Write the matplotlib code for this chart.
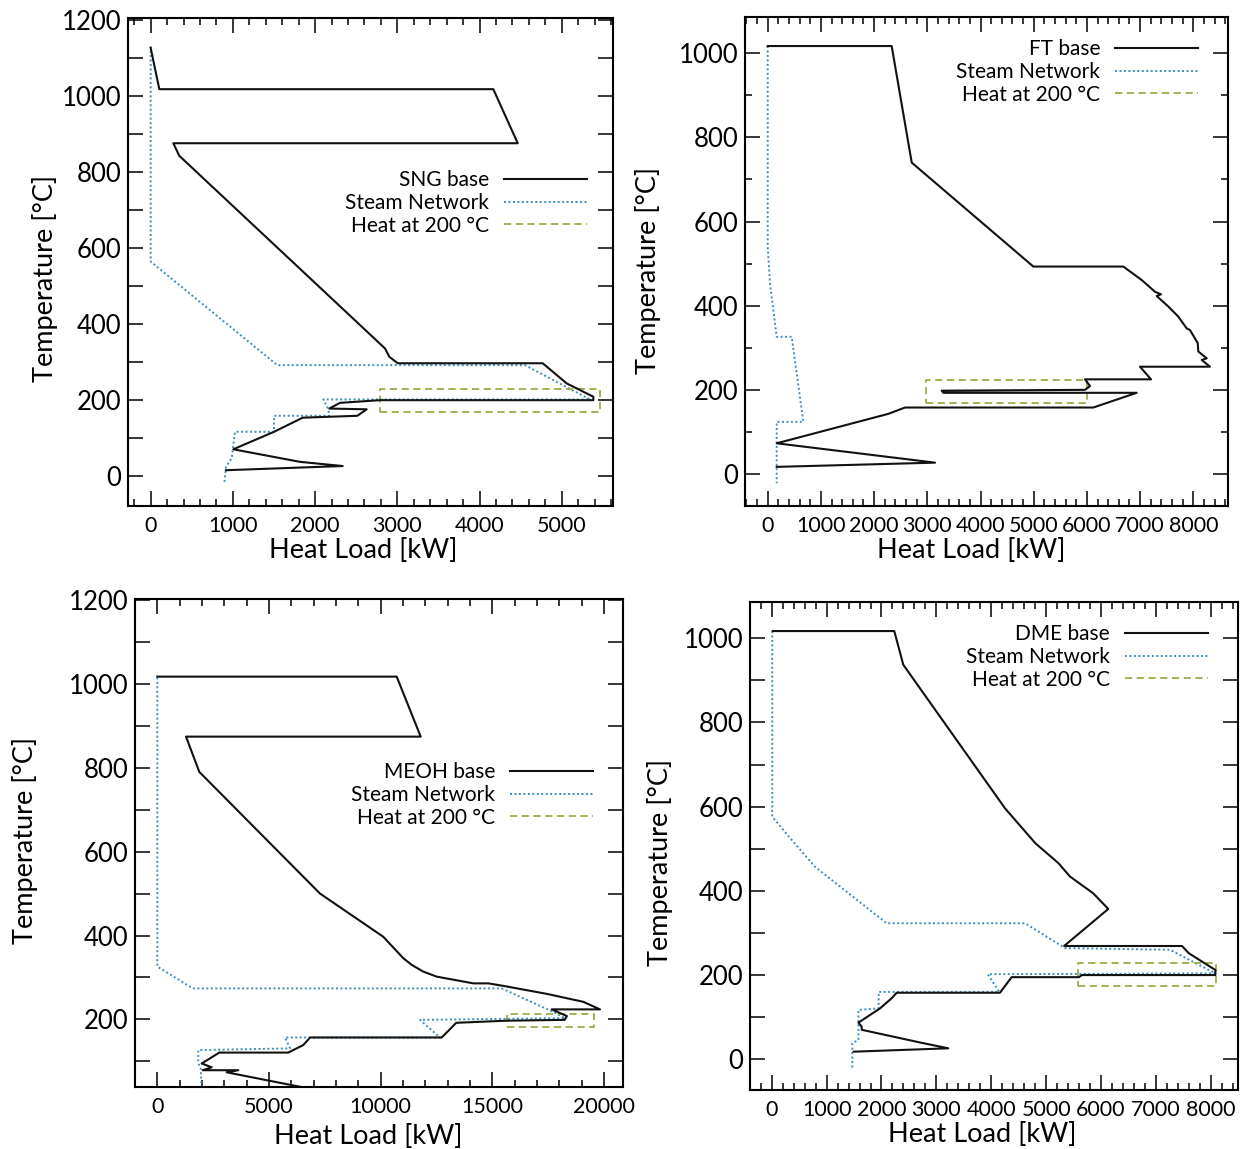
import matplotlib
matplotlib.use("Agg")
import matplotlib.pyplot as plt
from matplotlib.ticker import MultipleLocator

plt.rcParams['font.family'] = ['Lato', 'DejaVu Sans']

# ---- SNG ----
sng_base_x = [0, 105, 4168, 4465, 275, 348, 2850, 2903, 3005, 4769, 5061, 5385, 5385, 2790,
              2303, 2173, 2628, 2514, 1849, 1501, 1005, 1816, 2336, 916]
sng_base_y = [1125, 1017, 1017, 875, 875, 842, 336, 314, 297, 297, 244, 209, 200, 200,
              193, 178, 176, 159, 154, 117, 71, 38, 27, 16]
sng_steam_x = [0, 0, 1540, 4553, 5344, 2100, 2161, 2173, 1501, 1501, 1026, 985, 916, 896]
sng_steam_y = [1130, 564, 292, 292, 202, 202, 176, 159, 159, 117, 117, 47, 25, -19]
sng_heat_x = [2790, 5460, 5460, 2790, 2790]
sng_heat_y = [170, 170, 230, 230, 170]

# ---- FT ----
ft_base_x = [0, 2330, 2707, 4993, 6684, 7030, 7280, 7393, 7312, 7530, 7718, 7876, 7938, 8032,
             8083, 8094, 8252, 8158, 8314, 6998, 7205, 5964, 6058, 5964, 3271, 3301, 5932,
             6936, 6120, 2581, 2267, 889, 169, 3145, 169]
ft_base_y = [1017, 1017, 740, 493, 493, 461, 433, 427, 423, 398, 374, 346, 342, 322,
             311, 291, 275, 271, 255, 255, 225, 225, 209, 200, 198, 193, 193,
             193, 158, 158, 143, 97, 73, 27, 17]
ft_steam_x = [0, 0, 45, 169, 451, 669, 169, 169]
ft_steam_y = [1017, 540, 450, 326, 326, 124, 124, -22]
ft_heat_x = [2976, 6010, 6010, 2976, 2976]
ft_heat_y = [168, 168, 223, 223, 168]

# ---- MEOH ----
meoh_base_x = [0, 10716, 11790, 1285, 1880, 4450, 7283, 10116, 11011, 11388, 11907, 12506,
               14145, 14817, 15488, 17431, 19070, 19817, 17652, 18336, 18233, 15622, 13382,
               12730, 6840, 6535, 6235, 5862, 2775, 1987, 2435, 2032, 3626, 3106, 7300]
meoh_base_y = [1017, 1017, 874, 874, 790, 652, 500, 397, 346, 330, 314, 302,
               286, 286, 280, 261, 242, 224, 224, 208, 199, 197, 192,
               157, 157, 139, 131, 121, 121, 95, 86, 79, 79, 74, 30]
meoh_steam_x = [0, 0, 1585, 15416, 17802, 18250, 11759, 12654, 5720, 5940, 1835, 1835,
                1940, 1990]
meoh_steam_y = [1015, 326, 274, 274, 216, 203, 199, 157, 157, 131, 127, 95, 86, 30]
meoh_heat_x = [15640, 19560, 19560, 15640, 15640]
meoh_heat_y = [181, 181, 212, 212, 181]

# ---- DME ----
dme_base_x = [20, 2233, 2397, 4250, 4803, 5221, 5434, 5858, 6131, 5327, 7475, 7596, 8082,
              8082, 5650, 5598, 4371, 4158, 2277, 2186, 1975, 1580, 1640, 1640, 2732, 3217,
              1494]
dme_base_y = [1017, 1017, 937, 596, 513, 466, 434, 394, 357, 269, 269, 252, 212,
              200, 200, 195, 195, 158, 158, 145, 121, 87, 77, 70, 39, 26, 18]
dme_steam_x = [10, 10, 364, 789, 2094, 4614, 5343, 7256, 8082, 3937, 4144, 1949, 1949,
               1580, 1580, 1468, 1468]
dme_steam_y = [1017, 576, 521, 457, 323, 323, 264, 260, 204, 202, 160, 160, 121,
               117, 46, 38, -21]
dme_heat_x = [5585, 8090, 8090, 5585, 5585]
dme_heat_y = [175, 175, 229, 229, 175]

W, H = 1249, 1149
BLACK = "#111111"
BLUE = "#3b8dc0"
GREEN = "#9aae48"

panels = [
    dict(name="SNG base", base=(sng_base_x, sng_base_y), steam=(sng_steam_x, sng_steam_y),
         heat=(sng_heat_x, sng_heat_y), box=(128, 18, 613, 506),
         xlim=(-276, 5624), ylim=(-78, 1204), xmaj=1000, xmin=200, ymin_len=11,
         leg=(587, 203), xlab=(363, 551), ylab=(45, 278)),
    dict(name="FT base", base=(ft_base_x, ft_base_y), steam=(ft_steam_x, ft_steam_y),
         heat=(ft_heat_x, ft_heat_y), box=(745, 17, 1228, 506),
         xlim=(-427, 8652), ylim=(-76, 1086), xmaj=1000, xmin=200, ymin_len=5,
         leg=(1198, 72), xlab=(971, 550), ylab=(648, 270)),
    dict(name="MEOH base", base=(meoh_base_x, meoh_base_y), steam=(meoh_steam_x, meoh_steam_y),
         heat=(meoh_heat_x, meoh_heat_y), box=(135, 599, 623, 1087),
         xlim=(-998, 20846), ylim=(39, 1202), xmaj=5000, xmin=1000, ymin_len=11,
         leg=(593, 795), xlab=(368, 1136), ylab=(25, 840)),
    dict(name="DME base", base=(dme_base_x, dme_base_y), steam=(dme_steam_x, dme_steam_y),
         heat=(dme_heat_x, dme_heat_y), box=(750, 602, 1238, 1090),
         xlim=(-395, 8494), ylim=(-73, 1086), xmaj=1000, xmin=200, ymin_len=11,
         leg=(1208, 657), xlab=(982, 1135), ylab=(660, 862)),
]


def frac(box, px, py):
    l, t, r, b = box
    return (px - l) / (r - l), (b - py) / (b - t)


fig = plt.figure(figsize=(W / 100, H / 100), dpi=100)

for p in panels:
    l, t, r, b = p["box"]
    ax = fig.add_axes([l / W, 1 - b / H, (r - l) / W, (b - t) / H])

    hs, = ax.plot(*p["steam"], color=BLUE, lw=1.4, ls=(0, (1, 1.3)))
    hh, = ax.plot(*p["heat"], color=GREEN, lw=1.3, ls=(0, (4, 2.5)))
    hb, = ax.plot(*p["base"], color=BLACK, lw=1.5)

    ax.set_xlim(*p["xlim"])
    ax.set_ylim(*p["ylim"])
    ax.xaxis.set_major_locator(MultipleLocator(p["xmaj"]))
    ax.xaxis.set_minor_locator(MultipleLocator(p["xmin"]))
    ax.yaxis.set_major_locator(MultipleLocator(200))
    ax.yaxis.set_minor_locator(MultipleLocator(100))

    ax.tick_params(which="both", direction="in", top=True, right=True, width=1.1)
    ax.tick_params(axis="x", which="major", length=11, labelsize=15.5, pad=7)
    ax.tick_params(axis="x", which="minor", length=5)
    ax.tick_params(axis="y", which="major", length=11, labelsize=18.5, pad=5)
    ax.tick_params(axis="y", which="minor", length=p["ymin_len"])
    for s in ax.spines.values():
        s.set_linewidth(1.5)

    ax.set_xlabel("Heat Load [kW]", fontsize=19.5, va="center")
    ax.xaxis.set_label_coords(*frac(p["box"], *p["xlab"]))
    ax.set_ylabel("Temperature [°C]", fontsize=19.5, va="center")
    ax.yaxis.set_label_coords(*frac(p["box"], *p["ylab"]))

    ax.legend([hb, hs, hh], [p["name"], "Steam Network", "Heat at 200 °C"],
              loc="center right", bbox_to_anchor=frac(p["box"], *p["leg"]),
              frameon=False, markerfirst=False, fontsize=15, handlelength=4,
              handletextpad=0.7, labelspacing=0.13, borderpad=0, borderaxespad=0)

fig.savefig("out.png", dpi=100)
